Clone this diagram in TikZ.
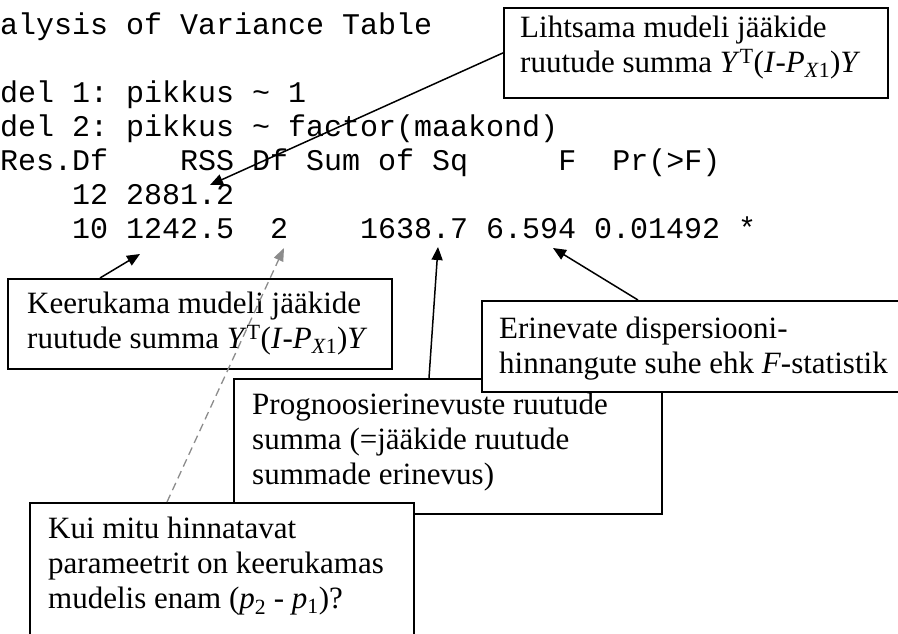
\documentclass[tikz,border=0pt]{standalone}
\usepackage{fontspec}
\setmainfont{Liberation Serif}
\newfontfamily\monof{Liberation Mono}
\usetikzlibrary{arrows.meta,calc}
\definecolor{dgray}{RGB}{140,140,140}
\tikzset{
  mono/.style={anchor=base west, inner sep=0pt, font=\monof\fontsize{30}{34}\selectfont},
  boxshape/.style={draw=black, line width=1.8pt, fill=white, anchor=north west, inner sep=0pt},
  boxtext/.style={anchor=north west, inner sep=0pt, align=left, font=\fontsize{31}{35}\selectfont},
  arr/.style={line width=1.5pt, -{Triangle[length=13pt,width=11pt]}},
  darr/.style={line width=1.3pt, draw=dgray, dash pattern=on 8pt off 5pt, -{Triangle[length=13pt,width=10pt,fill=dgray]}},
}
\newcommand{\YPY}{\textit{Y}\textsuperscript{T}(\textit{I}-\textit{P}\textsubscript{\textit{X}1})\textit{Y}}
\begin{document}
\begin{tikzpicture}[x=1pt,y=-1pt]
\useasboundingbox (0,0) rectangle (898,633);
\clip (0,0) rectangle (898,633);
\fill[white] (0,0) rectangle (898,633);
% R output
\node[mono] (l1) at (0,34) {alysis~of~Variance~Table};
\node[mono] (l3) at (0,102) {del~1:~pikkus~\textasciitilde~1};
\node[mono] (l4) at (0,136) {del~2:~pikkus~\textasciitilde~factor(maakond)};
\node[mono] (l5) at (0,170) {Res.Df~~~~RSS~Df~Sum~of~Sq~~~~~F~~Pr(>F)};
\node[mono] (l6) at (0,204) {~~~~12~2881.2};
\node[mono] (l7) at (0,238) {~~~~10~1242.5~~2~~~~1638.7~6.594~0.01492~*};
% arrow targets
\coordinate (t1) at (210,185);
\coordinate (t2) at (140,254);
\coordinate (t3) at (438,247);
\coordinate (t4) at (553,248);
\coordinate (t5) at (284,248);
% boxes
\node[boxshape, minimum width=428pt, minimum height=135pt] (proB) at (233,378) {};
\node[boxtext] (proT) at (252,389.5) {\strut Prognoosierinevuste ruutude\\ summa (=jääkide ruutude\\ summade erinevus)};
\node[boxshape, minimum width=440pt, minimum height=91pt] (eriB) at (481,300) {};
\node[boxtext] (eriT) at (499,313.5) {\strut Erinevate dispersiooni-\\ hinnangute suhe ehk \textit{F}-statistik};
\node[boxshape, minimum width=384pt, minimum height=160pt] (kuiB) at (29,502) {};
\node[boxtext] (kuiT) at (48,513.5) {\strut Kui mitu hinnatavat\\ parameetrit on keerukamas\\ mudelis enam (\textit{p}\textsubscript{2} - \textit{p}\textsubscript{1})?};
\node[boxshape, minimum width=384pt, minimum height=90pt] (keeB) at (7,278) {};
\node[boxtext] (keeT) at (27,288.5) {\strut Keerukama mudeli jääkide\\ ruutude summa \YPY};
\node[boxshape, minimum width=384pt, minimum height=90pt] (lihB) at (503,7) {};
\node[boxtext] (lihT) at (520,12.5) {\strut Lihtsama mudeli jääkide\\ ruutude summa \YPY};
% connectors
\draw[arr] (lihB.west) -- (t1);
\draw[arr] ($(keeB.north west)+(93,0)$) -- (t2);
\draw[arr] ($(proB.north west)+(196,0)$) -- (t3);
\draw[arr] ($(eriB.north west)+(157,0)$) -- (t4);
\draw[darr] ($(kuiB.north west)+(138,0)$) -- (t5);
\end{tikzpicture}
\end{document}
